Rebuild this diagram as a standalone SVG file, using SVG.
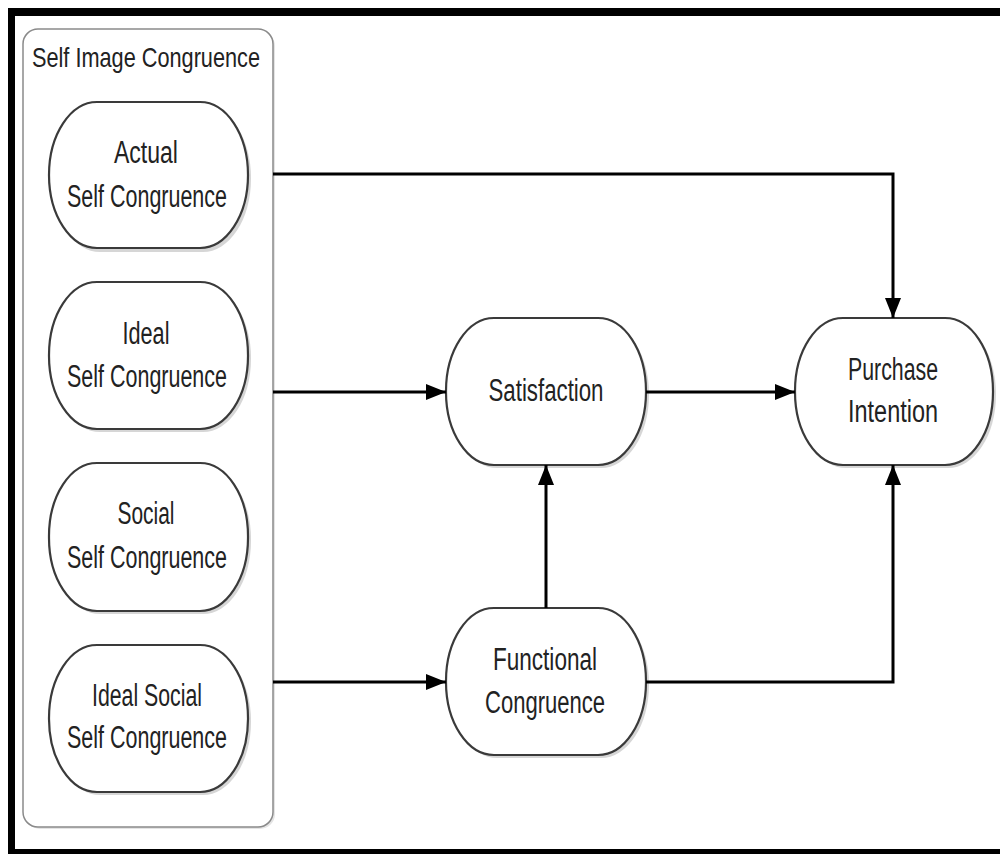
<svg xmlns="http://www.w3.org/2000/svg" width="1000" height="854" viewBox="0 0 1000 854">
<defs>
<marker id="arr" markerUnits="userSpaceOnUse" markerWidth="22" markerHeight="18" refX="20" refY="8" orient="auto">
<path d="M0,0 L20,8 L0,16 z" fill="#000"/>
</marker>
<style>
.node{fill:#fff;stroke:#3a3a3a;stroke-width:2.2}
.sh{fill:#d6d6d6}
.t{font-family:"Liberation Sans Narrow","Liberation Sans",Arial,sans-serif;font-size:31px;fill:#222;text-anchor:middle}
.c{fill:none;stroke:#000;stroke-width:3}
</style>
</defs>
<rect x="0" y="0" width="1000" height="854" fill="#fff"/>
<g id="frame">
<rect x="8" y="8" width="992" height="8" fill="#000"/>
<rect x="8" y="8" width="7" height="846" fill="#000"/>
<rect x="8" y="849" width="992" height="5" fill="#000"/>
</g>
<g id="container">
<rect x="25" y="31" width="250" height="798" rx="15" ry="15" fill="#e4e4e4"/>
<rect x="23" y="29" width="250" height="798" rx="15" ry="15" fill="#fff" stroke="#8a8a8a" stroke-width="1.5"/>
<text class="t" x="146" y="67" style="font-size:28px" textLength="228" lengthAdjust="spacingAndGlyphs">Self Image Congruence</text>
</g>
<g id="actual">
<rect class="sh" x="52" y="105" width="199" height="147" rx="48" ry="73"/>
<rect class="node" x="49" y="102" width="199" height="146" rx="48" ry="73"/>
<text class="t" x="146" y="163" textLength="64" lengthAdjust="spacingAndGlyphs">Actual</text>
<text class="t" x="147" y="207" textLength="160" lengthAdjust="spacingAndGlyphs">Self Congruence</text>
</g>
<g id="ideal">
<rect class="sh" x="52" y="285" width="199" height="147" rx="48" ry="73"/>
<rect class="node" x="49" y="282" width="199" height="147" rx="48" ry="73"/>
<text class="t" x="146" y="344" textLength="47" lengthAdjust="spacingAndGlyphs">Ideal</text>
<text class="t" x="147" y="387" textLength="160" lengthAdjust="spacingAndGlyphs">Self Congruence</text>
</g>
<g id="social">
<rect class="sh" x="52" y="466" width="199" height="148" rx="48" ry="73"/>
<rect class="node" x="49" y="463" width="199" height="148" rx="48" ry="73"/>
<text class="t" x="146" y="524" textLength="57" lengthAdjust="spacingAndGlyphs">Social</text>
<text class="t" x="147" y="568" textLength="160" lengthAdjust="spacingAndGlyphs">Self Congruence</text>
</g>
<g id="idealsocial">
<rect class="sh" x="52" y="648" width="199" height="147" rx="48" ry="73"/>
<rect class="node" x="49" y="645" width="199" height="147" rx="48" ry="73"/>
<text class="t" x="147" y="706" textLength="110" lengthAdjust="spacingAndGlyphs">Ideal Social</text>
<text class="t" x="147" y="748" textLength="160" lengthAdjust="spacingAndGlyphs">Self Congruence</text>
</g>
<g id="satisfaction">
<rect class="sh" x="449" y="321" width="200" height="147" rx="48" ry="73"/>
<rect class="node" x="446" y="318" width="200" height="147" rx="48" ry="73"/>
<text class="t" x="546" y="401" textLength="115" lengthAdjust="spacingAndGlyphs">Satisfaction</text>
</g>
<g id="purchase">
<rect class="sh" x="798" y="321" width="198" height="147" rx="48" ry="73"/>
<rect class="node" x="795" y="318" width="198" height="147" rx="48" ry="73"/>
<text class="t" x="893" y="380" textLength="90" lengthAdjust="spacingAndGlyphs">Purchase</text>
<text class="t" x="893" y="422" textLength="90" lengthAdjust="spacingAndGlyphs">Intention</text>
</g>
<g id="functional">
<rect class="sh" x="449" y="611" width="200" height="147" rx="48" ry="73"/>
<rect class="node" x="446" y="608" width="200" height="147" rx="48" ry="73"/>
<text class="t" x="545" y="670" textLength="104" lengthAdjust="spacingAndGlyphs">Functional</text>
<text class="t" x="545" y="713" textLength="120" lengthAdjust="spacingAndGlyphs">Congruence</text>
</g>
<g id="connectors">
<path class="c" d="M273,174 H893 V318" marker-end="url(#arr)"/>
<path class="c" d="M273,392 H446" marker-end="url(#arr)"/>
<path class="c" d="M646,392 H795" marker-end="url(#arr)"/>
<path class="c" d="M273,682 H446" marker-end="url(#arr)"/>
<path class="c" d="M546,608 V465" marker-end="url(#arr)"/>
<path class="c" d="M646,682 H893 V465" marker-end="url(#arr)"/>
</g>
</svg>
